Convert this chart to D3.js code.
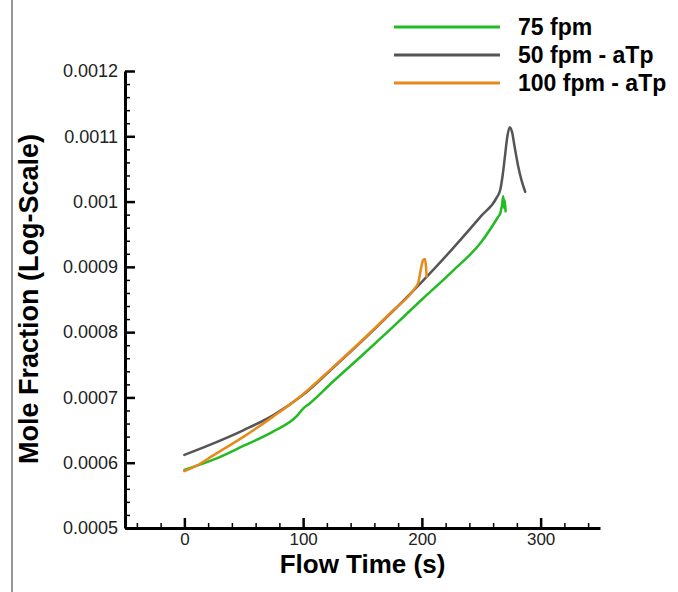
<!DOCTYPE html>
<html>
<head>
<meta charset="utf-8">
<script src="https://cdn.jsdelivr.net/npm/d3@7"></script>
<style>
  body { margin: 0; background: #fff; }
  svg { display: block; font-family: "Liberation Sans", Arial, sans-serif; }
  .axis path, .axis line { stroke: #000; }
  .axis text { font-size: 18px; fill: #222; }
</style>
</head>
<body>
<div id="chart"></div>
<script>
// series names and colours
const seriesNames = ['75 fpm', '50 fpm - aTp', '100 fpm - aTp'];
const seriesColors = ['#22bb22', '#555555', '#e8891c'];

// 75 fpm
const time75 = [0, 25, 50, 75, 95, 100, 105, 125, 150, 175, 200, 225, 250, 264, 266, 267.5, 268.5, 269.2, 269.8, 270.5];
const mole75 = [0.000589, 0.000605, 0.000626, 0.000648, 0.000672, 0.000683, 0.000690, 0.000724, 0.000765, 0.000807, 0.000850, 0.000892, 0.000938, 0.000976, 0.000982, 0.000995, 0.001008, 0.000990, 0.001002, 0.000985];

// 50 fpm - aTp
const time50 = [0, 25, 50, 75, 100, 125, 150, 175, 200, 225, 250, 263, 266, 268, 270, 272, 274, 276, 278, 281, 284, 287];
const mole50 = [0.000612, 0.000630, 0.000650, 0.000673, 0.000704, 0.000745, 0.000787, 0.000831, 0.000877, 0.000926, 0.000978, 0.001006, 0.001018, 0.001040, 0.001070, 0.001100, 0.001114, 0.001106, 0.001085, 0.001055, 0.001032, 0.001015];

// 100 fpm - aTp
const time100 = [0, 10, 25, 50, 75, 100, 125, 150, 175, 194, 197, 199, 201, 202.5, 203.5, 204];
const mole100 = [0.000587, 0.000595, 0.000612, 0.000640, 0.000671, 0.000705, 0.000746, 0.000788, 0.000832, 0.000867, 0.000876, 0.000895, 0.000910, 0.000912, 0.000900, 0.000885];

// axis ticks
const xMajorTicks = [0, 100, 200, 300];
const xMinorTicks = [-40, -20, 20, 40, 60, 80, 120, 140, 160, 180, 220, 240, 260, 280, 320, 340];
const yMajorTicks = [0.0005, 0.0006, 0.0007, 0.0008, 0.0009, 0.001, 0.0011, 0.0012];
const yTickLabels = ['0.0005', '0.0006', '0.0007', '0.0008', '0.0009', '0.001', '0.0011', '0.0012'];

const width = 678, height = 592;

const svg = d3.select('#chart').append('svg')
    .attr('width', width)
    .attr('height', height);

// thin frame line on the left
svg.append('line')
    .attr('x1', 12).attr('x2', 12)
    .attr('y1', 0).attr('y2', height)
    .attr('stroke', '#777')
    .attr('stroke-width', 1.5);

const xScale = d3.scaleLinear().domain([-50, 350]).range([125, 600]);
const yScale = d3.scaleLinear().domain([0.0005, 0.0012]).range([528, 71]);

// minor ticks drawn first, no labels
let yMinorTicks = [];
for (let i = 0; i < yMajorTicks.length - 1; i++) {
    for (let k = 1; k < 5; k++) yMinorTicks.push(yMajorTicks[i] + k * 0.00002);
}

svg.append('g')
    .attr('class', 'axis')
    .attr('transform', `translate(0,${yScale.range()[0]})`)
    .call(d3.axisBottom(xScale).tickValues(xMinorTicks).tickSize(-5).tickSizeOuter(0).tickFormat(''))
    .call(g => g.select('.domain').remove())
    .call(g => g.selectAll('line').attr('stroke-width', 1.5));

svg.append('g')
    .attr('class', 'axis')
    .attr('transform', `translate(${xScale.range()[0]},0)`)
    .call(d3.axisLeft(yScale).tickValues(yMinorTicks).tickSize(-5).tickSizeOuter(0).tickFormat(''))
    .call(g => g.select('.domain').remove())
    .call(g => g.selectAll('line').attr('stroke-width', 1.5));

// x axis with major ticks
const xAxis = svg.append('g')
    .attr('class', 'axis')
    .attr('transform', `translate(0,${yScale.range()[0]})`)
    .call(d3.axisBottom(xScale).tickValues(xMajorTicks).tickSize(-10).tickSizeOuter(0));
xAxis.select('.domain').attr('stroke-width', 3);
xAxis.selectAll('.tick line').attr('stroke-width', 2.5);
xAxis.selectAll('.tick text')
    .attr('y', 17).attr('dy', 0)
    .style('font-size', '17px');

// y axis with major ticks
const yAxis = svg.append('g')
    .attr('class', 'axis')
    .attr('transform', `translate(${xScale.range()[0]},0)`)
    .call(d3.axisLeft(yScale).tickValues(yMajorTicks).tickSize(-10).tickSizeOuter(0)
        .tickFormat((d, i) => yTickLabels[i]));
yAxis.select('.domain').attr('stroke-width', 3);
yAxis.selectAll('.tick line').attr('stroke-width', 2.5);
yAxis.selectAll('.tick text').attr('x', -7);

// curves
const line = d3.line()
    .x(d => xScale(d[0]))
    .y(d => yScale(d[1]))
    .curve(d3.curveMonotoneX);

const series = [
    { name: seriesNames[0], color: seriesColors[0], pts: d3.zip(time75, mole75) },
    { name: seriesNames[1], color: seriesColors[1], pts: d3.zip(time50, mole50) },
    { name: seriesNames[2], color: seriesColors[2], pts: d3.zip(time100, mole100) }
];

svg.append('g').selectAll('path')
    .data(series)
    .enter().append('path')
    .attr('d', d => line(d.pts))
    .attr('fill', 'none')
    .attr('stroke', d => d.color)
    .attr('stroke-width', 2.5)
    .attr('stroke-linejoin', 'round')
    .attr('stroke-linecap', 'round');

// axis titles
svg.append('text')
    .attr('x', (xScale.range()[0] + xScale.range()[1]) / 2)
    .attr('y', 573)
    .attr('text-anchor', 'middle')
    .style('font-size', '26px')
    .style('font-weight', 'bold')
    .text('Flow Time (s)');

svg.append('text')
    .attr('transform', 'translate(38,299) rotate(-90)')
    .attr('text-anchor', 'middle')
    .style('font-size', '27px')
    .style('font-weight', 'bold')
    .text('Mole Fraction (Log-Scale)');

// legend
const legend = svg.append('g')
    .selectAll('g')
    .data(series)
    .enter().append('g')
    .attr('transform', (d, i) => `translate(0,${27 + i * 28})`);

legend.append('line')
    .attr('x1', 394).attr('x2', 500)
    .attr('stroke', d => d.color)
    .attr('stroke-width', 3);

legend.append('text')
    .attr('x', 518)
    .attr('y', 8)
    .style('font-size', '23px')
    .style('font-weight', 'bold')
    .text(d => d.name);
</script>
</body>
</html>
